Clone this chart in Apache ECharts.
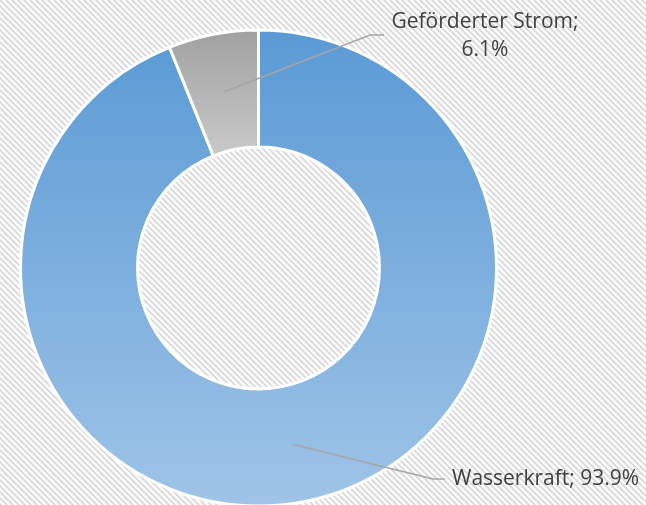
<!DOCTYPE html>
<html><head><meta charset="utf-8">
<script src="https://cdn.jsdelivr.net/npm/echarts@6/dist/echarts.min.js"></script>
<style>html,body{margin:0;padding:0;background:#fff}#c{width:646px;height:505px}</style>
</head><body><div id="c"></div>
<script>
const categories = ['Wasserkraft', 'Geförderter Strom'];
const values = [93.9, 6.1];

const CX = 258.5, CY = 268, R0 = 121, R1 = 238;
// label anchor positions (annotation layout)
const labelPos = [
  {x: 452, y: 479, align: 'left', elbow: [433, 479], end: [445, 479]},
  {x: 485, y: 36, align: 'center', elbow: [370, 35], end: [384, 35]}
];

function stripes() {
  const s = 6, c = document.createElement('canvas');
  c.width = s; c.height = s;
  const g = c.getContext('2d');
  g.fillStyle = '#ffffff'; g.fillRect(0, 0, s, s);
  g.strokeStyle = '#dcdcdc'; g.lineWidth = 2;
  g.beginPath();
  for (let k = -1; k <= 1; k++) {
    g.moveTo(-2, -2 + k * s); g.lineTo(s + 2, s + 2 + k * s);
  }
  g.stroke();
  return c;
}

const total = values.reduce((a, b) => a + b, 0);
const midAngles = [];
let acc = 0;
values.forEach(v => { midAngles.push((acc + v / 2) / total * 2 * Math.PI); acc += v; });

const colors = [
  {type: 'linear', x: 0, y: 0, x2: 0, y2: 1, colorStops: [{offset: 0, color: '#5a9ad5'}, {offset: 1, color: '#9fc4e7'}]},
  {type: 'linear', x: 0, y: 0, x2: 0, y2: 1, colorStops: [{offset: 0, color: '#a0a0a0'}, {offset: 1, color: '#cacaca'}]}
];

const common = {
  type: 'pie', center: [CX, CY], radius: [R0, R1], startAngle: 90, clockwise: true
};

const chart = echarts.init(document.getElementById('c'), null, {renderer: 'canvas'});
chart.setOption({
  backgroundColor: {image: stripes(), repeat: 'repeat'},
  animation: false,
  series: [Object.assign({}, common, {
    z: 2,
    itemStyle: {borderColor: '#ffffff', borderWidth: 3},
    label: {show: false}, labelLine: {show: false},
    data: categories.map((n, i) => ({name: n, value: values[i], itemStyle: {color: colors[i]}}))
  }), Object.assign({}, common, {
    z: 5, silent: true,
    itemStyle: {color: 'rgba(0,0,0,0)', borderWidth: 0},
    label: {
      show: true, position: 'outside', overflow: 'none', alignTo: 'none', width: 300,
      fontFamily: 'Open Sans', fontSize: 21, color: '#404040', lineHeight: 28,
      formatter: p => p.dataIndex === 1 ? p.name + ';\n' + p.value.toFixed(1) + '%' : p.name + '; ' + p.value.toFixed(1) + '%'
    },
    labelLine: {show: true, lineStyle: {color: '#a6a6a6', width: 1.5}},
    labelLayout: function (params) {
      const i = params.dataIndex, a = midAngles[i], rm = (R0 + R1) / 2;
      const ax = CX + rm * Math.sin(a), ay = CY - rm * Math.cos(a);
      const L = labelPos[i];
      return {
        x: L.x, y: L.y, align: L.align, verticalAlign: 'middle',
        labelLinePoints: [[ax, ay], L.elbow, L.end]
      };
    },
    data: categories.map((n, i) => ({name: n, value: values[i]}))
  })]
});
</script></body></html>
